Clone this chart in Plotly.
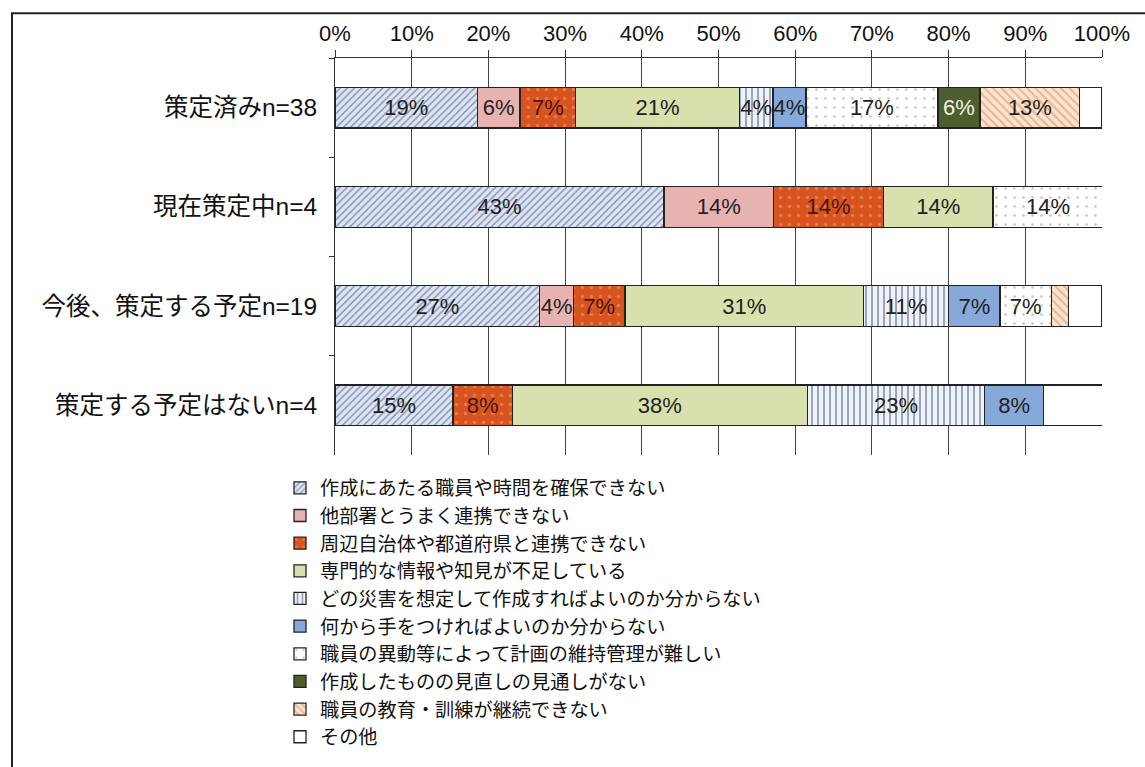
import plotly.graph_objects as go

categories = ["策定済みn=38", "現在策定中n=4", "今後、策定する予定n=19", "策定する予定はないn=4"]

series_names = [
    "作成にあたる職員や時間を確保できない",
    "他部署とうまく連携できない",
    "周辺自治体や都道府県と連携できない",
    "専門的な情報や知見が不足している",
    "どの災害を想定して作成すればよいのか分からない",
    "何から手をつければよいのか分からない",
    "職員の異動等によって計画の維持管理が難しい",
    "作成したものの見直しの見通しがない",
    "職員の教育・訓練が継続できない",
    "その他",
]

# values (%) per series, in category order
s1 = [18.6, 42.9, 26.7, 15.4]
s2 = [5.5, 14.3, 4.4, 0]
s3 = [7.3, 14.3, 6.7, 7.7]
s4 = [21.3, 14.3, 31.1, 38.5]
s5 = [4.4, 0, 11.1, 23.1]
s6 = [4.3, 0, 6.7, 7.7]
s7 = [17.2, 14.3, 6.7, 0]
s8 = [5.5, 0, 0, 0]
s9 = [13.0, 0, 2.2, 0]
s10 = [2.8, 0, 4.4, 7.7]
series_values = [s1, s2, s3, s4, s5, s6, s7, s8, s9, s10]

tick_vals = [0, 10, 20, 30, 40, 50, 60, 70, 80, 90, 100]
tick_text = ["0%", "10%", "20%", "30%", "40%", "50%", "60%", "70%", "80%", "90%", "100%"]

styles = [
    dict(color="#dde5f2", shape="/", fg="#3b4878", size=5, solidity=0.3, tc="#222"),
    dict(color="#e7b3b1", shape="", fg=None, size=8, solidity=0.2, tc="#222"),
    dict(color="#d8541f", shape=".", fg="#f2a275", size=9, solidity=0.12, tc="#4a1408"),
    dict(color="#d8e0ae", shape="", fg=None, size=8, solidity=0.2, tc="#222"),
    dict(color="#eef3fa", shape="|", fg="#34436f", size=6, solidity=0.3, tc="#222"),
    dict(color="#87a9d9", shape="", fg=None, size=8, solidity=0.2, tc="#222"),
    dict(color="#ffffff", shape=".", fg="#8a8a8a", size=9, solidity=0.07, tc="#222"),
    dict(color="#4d5d2d", shape="", fg=None, size=8, solidity=0.2, tc="#eef3e0"),
    dict(color="#fbe4d0", shape="\\", fg="#e0844a", size=6, solidity=0.35, tc="#222"),
    dict(color="#ffffff", shape="", fg=None, size=8, solidity=0.2, tc="#222"),
]

# plot area in pixels (for placing legend entries)
PLOT_TOP, PLOT_BOTTOM, PLOT_LEFT, PLOT_W = 58, 457, 335, 767
PLOT_H = PLOT_BOTTOM - PLOT_TOP
LEG_FIRST_Y, LEG_STEP, LEG_X = 490, 27.8, 280
LEG_FONT = 19.2

fig = go.Figure()
legend_layouts = {}
for i, (name, vals, st) in enumerate(zip(series_names, series_values, styles)):
    texts = []
    for v in vals:
        if name == "その他" or v < 3:
            texts.append("")
        else:
            texts.append(f"{round(v)}%")
    pattern = dict(shape=st["shape"], fillmode="overlay", size=st["size"], solidity=st["solidity"])
    if st["fg"]:
        pattern["fgcolor"] = st["fg"]
    leg_key = "legend" if i == 0 else f"legend{i + 1}"
    fig.add_trace(go.Bar(
        y=categories, x=vals, name=name, orientation="h",
        marker=dict(color=st["color"], line=dict(color="#222222", width=1.3), pattern=pattern),
        text=texts, textposition="inside", insidetextanchor="middle", textangle=0,
        textfont=dict(family="Liberation Sans, Arial, sans-serif", size=22, color=st["tc"]),
        hoverinfo="skip", legend=leg_key,
    ))
    py = LEG_FIRST_Y + i * LEG_STEP
    legend_layouts[leg_key] = dict(
        x=(LEG_X - PLOT_LEFT) / PLOT_W, y=(PLOT_BOTTOM - py) / PLOT_H,
        xanchor="left", yanchor="middle",
        font=dict(family="Noto Sans CJK JP, sans-serif", size=LEG_FONT, color="#111"),
        bgcolor="rgba(0,0,0,0)", borderwidth=0,
    )

fig.update_layout(
    barmode="stack",
    bargap=0.59,
    width=1145, height=767,
    margin=dict(l=PLOT_LEFT, r=1145 - PLOT_LEFT - PLOT_W, t=PLOT_TOP, b=767 - PLOT_BOTTOM),
    paper_bgcolor="white", plot_bgcolor="white",
    uniformtext=dict(minsize=22, mode="show"),
    font=dict(family="Liberation Sans, Noto Sans CJK JP, sans-serif", size=19, color="#111"),
    xaxis=dict(
        side="top", range=[0, 100], tickvals=tick_vals, ticktext=tick_text,
        showgrid=True, gridcolor="#444444", gridwidth=1,
        showline=True, linecolor="#333", linewidth=1,
        ticks="outside", ticklen=7, tickcolor="#333",
        tickfont=dict(family="Liberation Sans, Arial, sans-serif", size=22, color="#111"),
        zeroline=False, fixedrange=True,
    ),
    yaxis=dict(
        categoryorder="array", categoryarray=categories, autorange="reversed",
        showline=True, linecolor="#333", linewidth=1,
        ticks="outside", ticklen=5, tickcolor="#333", tickson="boundaries",
        ticklabelstandoff=12,
        tickfont=dict(family="Liberation Sans, Noto Sans CJK JP, sans-serif", size=24.5, color="#111"),
        showgrid=False, fixedrange=True,
    ),
    showlegend=True,
    **legend_layouts,
)

# outer frame
fig.add_shape(type="rect", xref="paper", yref="paper",
              x0=(12 - PLOT_LEFT) / PLOT_W, x1=(1160 - PLOT_LEFT) / PLOT_W,
              y0=(PLOT_BOTTOM - 790) / PLOT_H, y1=(PLOT_BOTTOM - 13) / PLOT_H,
              line=dict(color="#222", width=2), fillcolor="rgba(0,0,0,0)", layer="below")

fig.write_html("out.html")
